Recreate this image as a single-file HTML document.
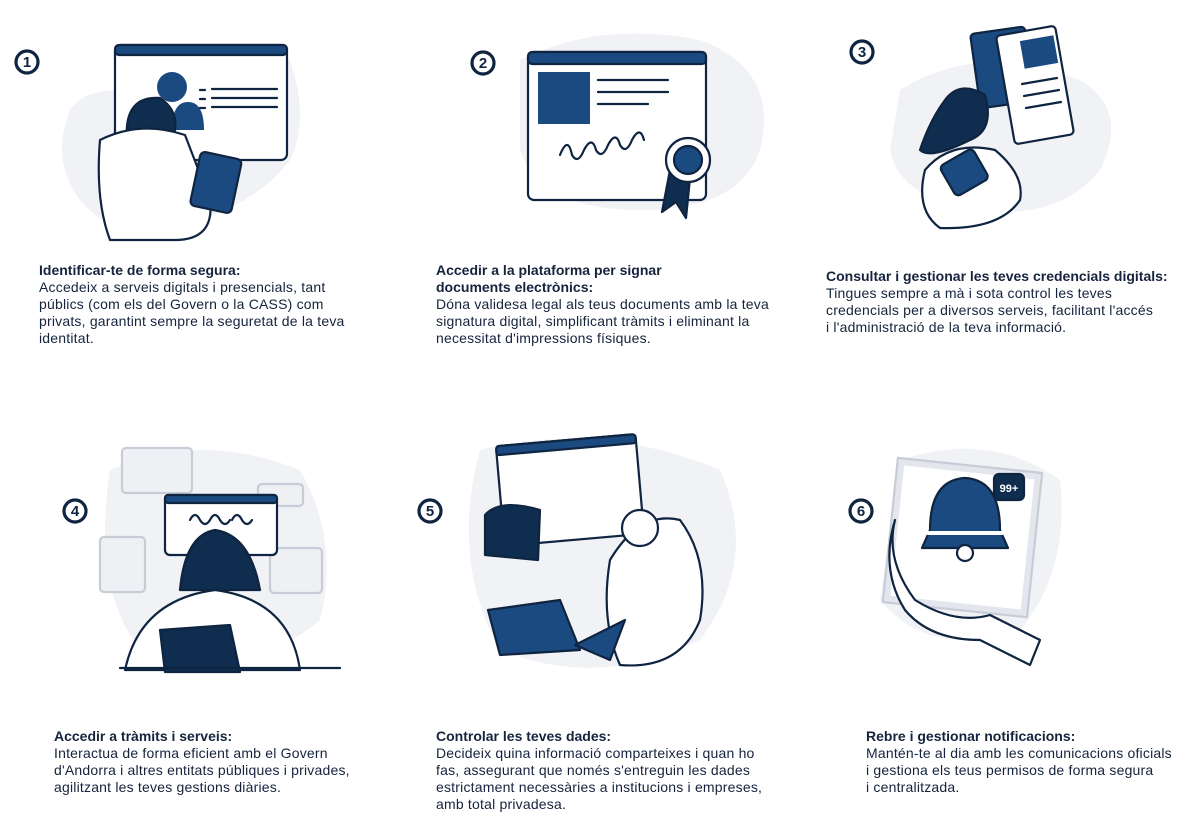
<!DOCTYPE html>
<html><head><meta charset="utf-8"><style>
body{margin:0;width:1200px;height:830px;background:#fff;position:relative;overflow:hidden;font-family:"Liberation Sans",sans-serif;color:#15233d}
.t{position:absolute;font-size:14px;line-height:17px;letter-spacing:0.2px;white-space:nowrap}
.t b{font-weight:bold;letter-spacing:0}
svg{position:absolute;left:0;top:0}
</style></head><body>
<svg width="1200" height="830" viewBox="0 0 1200 830" fill="none" stroke="#0f2440" stroke-width="2.2" stroke-linejoin="round" stroke-linecap="round">
<g stroke-width="3.2">
<circle cx="27" cy="62" r="11"/><circle cx="483" cy="63" r="11"/><circle cx="862" cy="52" r="11"/>
<circle cx="75" cy="511" r="11"/><circle cx="430" cy="511" r="11"/><circle cx="861" cy="511" r="11"/>
</g>
<g fill="#0f2440" stroke="none" font-family="Liberation Sans" font-weight="bold" font-size="15" text-anchor="middle">
<text x="27" y="67">1</text><text x="483" y="68">2</text><text x="862" y="57">3</text>
<text x="75" y="516">4</text><text x="430" y="516">5</text><text x="861" y="516">6</text>
</g>
<g fill="#f1f2f5" stroke="none">
<path d="M70 110 Q90 80 160 95 L290 60 Q310 120 290 160 Q260 200 200 220 Q120 250 80 200 Q50 160 70 110Z"/>
<path d="M520 60 Q600 20 700 40 Q780 70 760 150 Q740 210 640 210 Q540 210 520 150Z"/>
<path d="M900 90 Q980 40 1080 80 Q1130 110 1100 170 Q1060 220 980 210 Q900 200 890 150Z"/>
<path d="M110 470 Q200 430 300 470 Q340 540 320 620 Q250 680 150 660 Q90 600 110 470Z"/>
<path d="M480 450 Q600 420 720 470 Q760 560 700 640 Q600 690 500 650 Q450 560 480 450Z"/>
<path d="M900 460 Q990 430 1060 480 Q1070 570 1020 630 Q930 660 880 600Z"/>
</g>
<rect x="115" y="45" width="172" height="115" rx="6" fill="#fff"/>
<rect x="115" y="45" width="172" height="10" rx="4" fill="#1a4a7f"/>
<circle cx="172" cy="87" r="15" fill="#1a4a7f" stroke="none"/>
<path d="M172 130 Q172 102 188 102 Q204 102 204 130Z" fill="#1a4a7f" stroke="none"/>
<path d="M200 90h5M212 89h65M200 99h5M212 98h65M200 108h5M212 107h65"/>
<path d="M128 150 Q120 95 160 98 Q178 110 175 130 L165 160Z" fill="#0f2d4e"/>
<path d="M100 140 Q140 120 185 135 L210 200 Q215 240 175 240 L110 240 Q95 200 100 140Z" fill="#fff"/>
<rect x="195" y="155" width="42" height="55" rx="5" fill="#1a4a7f" transform="rotate(12 216 182)"/>
<rect x="528" y="52" width="178" height="148" rx="6" fill="#fff"/>
<rect x="528" y="52" width="178" height="12" rx="4" fill="#1a4a7f"/>
<rect x="538" y="72" width="52" height="52" fill="#1a4a7f" stroke="none"/>
<path d="M598 80h70M598 92h70M598 104h50"/>
<path d="M560 155 q8-20 12 0 q6 10 12-5 q8-15 12 0 q6 10 12-5 q8-15 12 0 q6 10 12-5 q8-15 12 0"/>
<path d="M670 170 L662 212 L676 202 L686 218 L690 178Z" fill="#0f2d4e"/>
<circle cx="688" cy="160" r="22" fill="#fff"/><circle cx="688" cy="160" r="14" fill="#1a4a7f"/>
<rect x="975" y="30" width="55" height="75" rx="4" fill="#1a4a7f" transform="rotate(-8 1002 67)"/>
<rect x="1005" y="30" width="60" height="110" rx="4" fill="#fff" transform="rotate(-10 1035 85)"/>
<rect x="1022" y="38" width="34" height="28" fill="#1a4a7f" stroke="none" transform="rotate(-10 1039 52)"/>
<path d="M1022 84l35-6M1024 96l35-6M1026 108l35-6"/>
<path d="M945 100 Q960 80 985 95 Q995 130 970 140 Q930 160 920 150 Q930 120 945 100Z" fill="#0f2d4e"/>
<path d="M925 170 Q950 140 995 150 Q1025 175 1020 200 Q1000 230 940 228 Q915 210 925 170Z" fill="#fff"/>
<rect x="945" y="155" width="38" height="35" rx="5" fill="#1a4a7f" transform="rotate(-30 964 172)"/>
<g stroke="#c8ccd6"><rect x="122" y="448" width="70" height="45" rx="4" fill="#eef0f4"/><rect x="258" y="484" width="45" height="22" rx="4" fill="#eef0f4"/><rect x="100" y="537" width="45" height="55" rx="4" fill="#eef0f4"/><rect x="270" y="548" width="52" height="45" rx="4" fill="#eef0f4"/></g>
<rect x="165" y="495" width="112" height="60" rx="5" fill="#fff"/>
<rect x="165" y="495" width="112" height="8" rx="3" fill="#1a4a7f"/>
<path d="M190 520 q5-10 10 0 q5 8 10 0M210 520 q5-10 10 0 q5 8 10 0M232 520 q5-10 10 0 q5 8 10 0"/>
<path d="M180 590 Q185 535 215 530 Q250 535 260 590Z" fill="#0f2d4e"/>
<path d="M125 670 Q140 600 215 590 Q290 600 300 670Z" fill="#fff"/>
<path d="M160 630 L230 625 L240 672 L165 672Z" fill="#0f2d4e"/>
<path d="M120 668 H340"/>
<rect x="500" y="440" width="140" height="100" rx="5" fill="#fff" transform="rotate(-5 570 490)"/>
<rect x="500" y="440" width="140" height="9" rx="3" fill="#1a4a7f" transform="rotate(-5 570 490)"/>
<path d="M485 515 Q500 498 540 510 L538 560 L485 555Z" fill="#0f2d4e"/>
<path d="M610 560 Q640 510 680 520 Q710 560 700 620 Q680 670 620 665 Q600 620 610 560Z" fill="#fff"/>
<circle cx="640" cy="528" r="18" fill="#fff"/>
<path d="M488 610 L560 600 L580 650 L500 655Z" fill="#1a4a7f"/>
<path d="M575 645 L625 620 L610 660Z" fill="#1a4a7f"/>
<rect x="890" y="465" width="145" height="145" fill="#e3e6ec" stroke="#c8ccd6" transform="rotate(6 962 537)"/>
<rect x="897" y="472" width="131" height="131" fill="#fff" stroke="none" transform="rotate(6 962 537)"/>
<path d="M930 530 Q930 480 965 478 Q1000 480 1000 530 L1008 548 H922Z" fill="#1a4a7f"/>
<path d="M928 533 H1002" stroke="#fff" stroke-width="4"/>
<circle cx="965" cy="553" r="8" fill="#fff"/>
<rect x="994" y="474" width="30" height="26" rx="5" fill="#0f2d4e"/>
<text x="1009" y="492" fill="#fff" stroke="none" font-size="11" font-weight="bold" text-anchor="middle" font-family="Liberation Sans">99+</text>
<path d="M895 520 Q885 560 915 600 Q955 625 990 615 L1040 640 L1030 665 L980 640 Q930 640 905 610 Q880 570 895 520Z" fill="#fff"/>
</svg>

<div class="t" style="left:39px;top:262px"><b>Identificar-te de forma segura:</b><br>Accedeix a serveis digitals i presencials, tant<br>públics (com els del Govern o la CASS) com<br>privats, garantint sempre la seguretat de la teva<br>identitat.</div>
<div class="t" style="left:436px;top:262px"><b>Accedir a la plataforma per signar<br>documents electrònics:</b><br>Dóna validesa legal als teus documents amb la teva<br>signatura digital, simplificant tràmits i eliminant la<br>necessitat d'impressions físiques.</div>
<div class="t" style="left:826px;top:268px"><b>Consultar i gestionar les teves credencials digitals:</b><br>Tingues sempre a mà i sota control les teves<br>credencials per a diversos serveis, facilitant l'accés<br>i l'administració de la teva informació.</div>
<div class="t" style="left:54px;top:728px"><b>Accedir a tràmits i serveis:</b><br>Interactua de forma eficient amb el Govern<br>d'Andorra i altres entitats públiques i privades,<br>agilitzant les teves gestions diàries.</div>
<div class="t" style="left:436px;top:728px"><b>Controlar les teves dades:</b><br>Decideix quina informació comparteixes i quan ho<br>fas, assegurant que només s'entreguin les dades<br>estrictament necessàries a institucions i empreses,<br>amb total privadesa.</div>
<div class="t" style="left:866px;top:728px"><b>Rebre i gestionar notificacions:</b><br>Mantén-te al dia amb les comunicacions oficials<br>i gestiona els teus permisos de forma segura<br>i centralitzada.</div>
</body></html>
